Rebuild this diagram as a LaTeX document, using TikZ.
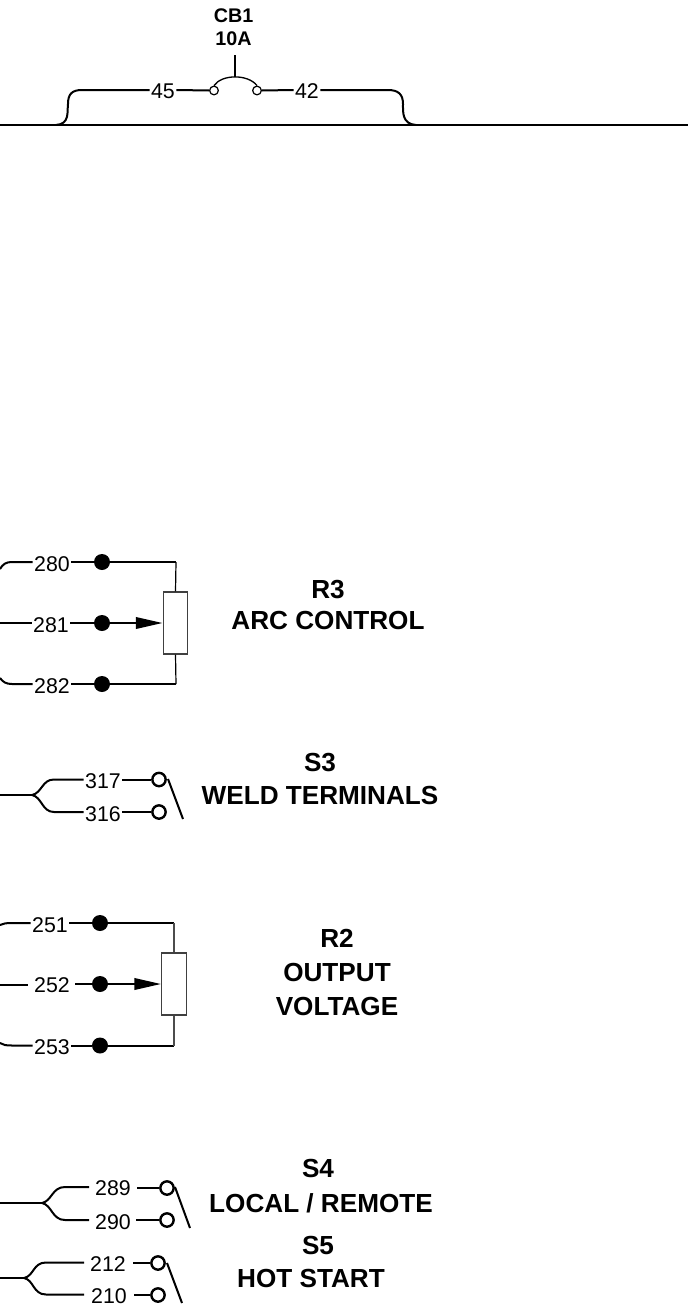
\documentclass[tikz,border=0pt]{standalone}
\usepackage{fontspec}
\setmainfont{Liberation Sans}
\usetikzlibrary{arrows.meta}
\tikzset{
 wire/.style={line width=1.5pt,black},
 num/.style={font=\fontsize{16}{16}\selectfont,inner sep=1pt},
 title/.style={font=\bfseries\fontsize{19.6}{19.6}\selectfont,inner sep=0pt},
 small title/.style={font=\bfseries\fontsize{14.8}{14.8}\selectfont,inner sep=0pt},
 dot/.style={circle,fill=black,draw=none,minimum size=12pt,inner sep=0pt},
 open/.style={circle,draw=black,line width=1.8pt,fill=white,minimum size=10pt,inner sep=0pt},
 smallopen/.style={circle,draw=black,line width=0.9pt,fill=white,minimum size=6.5pt,inner sep=0pt},
 pot/.style={draw=black!75,line width=0.8pt,fill=white,inner sep=0pt,minimum width=18.5pt,minimum height=46.5pt},
 tip/.style={-{Triangle[length=20pt,width=8.5pt,fill=black]},line width=1.8pt},
}
\begin{document}
\begin{tikzpicture}[x=0.75pt,y=-0.75pt]
\useasboundingbox (0,0) rectangle (688,1307);
% CB1
\coordinate (busL) at (0,125);
\coordinate (busR) at (688,125);
\coordinate (busA) at (56,125);
\coordinate (busB) at (416,125);
\draw[wire] (busL) -- (busR);
\node[small title] (cb1a) at (233.5,16) {CB1};
\node[small title] (cb1b) at (233.5,39) {10A};
\node[num] (n45) at (163,91) {45};
\node[num] (n42) at (307,91) {42};
\node[smallopen] (c45) at (214,90.5) {};
\node[smallopen] (c42) at (257,90.5) {};
\coordinate (cbtop) at (235,55);
\coordinate (cbmid) at (235,77);
\draw[wire] (busA) .. controls (70,124) and (67,112) .. (68,104) .. controls (68,94) and (72,90) .. (82,90) -- (n45.west |- 0,90);
\draw[wire] (busB) .. controls (402,124) and (403,112) .. (403,104) .. controls (403,94) and (398,90) .. (388,90) -- (n42.east |- 0,90);
\draw[wire] (n45.east |- 0,90) -- (c45.west);
\draw[wire] (n42.west |- 0,90) -- (c42.east);
\draw[line width=1pt] (c45.north) .. controls (222,74) and (248,74) .. (c42.north);
\draw[line width=1.2pt] (cbtop) -- (cbmid);
% R3
\node[num] (n280) at (52,564) {280};
\node[num] (n281) at (51,625) {281};
\node[num] (n282) at (52,686) {282};
\node[dot] (d280) at (102,562) {};
\node[dot] (d281) at (102,623) {};
\node[dot] (d282) at (102,684) {};
\node[pot] (r3) at (175.5,623) {};
\coordinate (r3a) at (0,569); \coordinate (r3b) at (0,623); \coordinate (r3c) at (0,678);
\draw[wire] (r3a) .. controls (3,564) and (6,562) .. (12,562) -- (n280.west |- 0,562);
\draw[wire] (r3b) -- (n281.west |- 0,623);
\draw[wire] (r3c) .. controls (3,682) and (6,684) .. (12,684) -- (n282.west |- 0,684);
\draw[wire] (n280.east |- 0,562) -- (d280);
\draw[wire] (n282.east |- 0,684) -- (d282);
\draw[wire] (d280) -- (176,562);
\draw[wire] (d282) -- (176,684);
\draw[line width=0.9pt] (176,562) -- (r3.north);
\draw[line width=0.9pt] (176,684) -- (r3.south);
\draw[wire,line width=1.8pt] (n281.east |- 0,623) -- (d281);
\draw[tip] (d281) -- (r3.west);
\node[title] (r3t) at (328,590) {R3};
\node[title] (r3u) at (328,620) {ARC CONTROL};
% S3
\coordinate (s3m) at (0,795);
\coordinate (s3j) at (32,795);
\node[num] (n317) at (103,781) {317};
\node[num] (n316) at (103,814) {316};
\node[open] (c317) at (159,779.5) {};
\node[open] (c316) at (159,812) {};
\coordinate (s3p) at (168,779); \coordinate (s3q) at (183,819);
\draw[wire] (s3m) -- (s3j);
\draw[wire] (s3j) .. controls (42,793) and (42,779.5) .. (54,779.5) -- (n317.west |- 0,779.5);
\draw[wire] (s3j) .. controls (42,797) and (42,812) .. (54,812) -- (n316.west |- 0,812);
\draw[wire] (n317.east |- 0,779.5) -- (c317);
\draw[wire] (n316.east |- 0,812) -- (c316);
\draw[wire] (s3p) -- (s3q);
\node[title] (s3t) at (320,763) {S3};
\node[title] (s3u) at (320,795) {WELD TERMINALS};
% R2
\node[num] (n251) at (50,925) {251};
\node[num] (n252) at (52,985) {252};
\node[num] (n253) at (52,1047) {253};
\node[dot] (d251) at (100,923) {};
\node[dot] (d252) at (100,984) {};
\node[dot] (d253) at (100,1045.5) {};
\node[pot] (r2) at (174,984) {};
\coordinate (r2a) at (0,925); \coordinate (r2b) at (0,985); \coordinate (r2c) at (0,1043);
\coordinate (r2bb) at (28,985);
\draw[wire] (r2a) .. controls (3,923.5) and (6,923) .. (12,923) -- (n251.west |- 0,923);
\draw[wire] (r2b) -- (r2bb);
\draw[wire] (r2c) .. controls (3,1045) and (6,1045.5) .. (12,1045.5) -- (n253.west |- 0,1045.5);
\draw[wire] (n251.east |- 0,923) -- (d251);
\draw[wire] (n253.east |- 0,1045.5) -- (d253);
\draw[wire] (d251) -- (174,923);
\draw[wire] (d253) -- (174,1045.5);
\draw[line width=0.9pt,black!70] (174,923) -- (r2.north);
\draw[line width=0.9pt,black!70] (174,1045.5) -- (r2.south);
\draw[wire,line width=1.8pt] (n252.east |- 0,984) ++(4,0) -- (d252);
\draw[tip] (d252) -- (r2.west);
\node[title] (r2t) at (337,938) {R2};
\node[title] (r2u) at (337,972) {OUTPUT};
\node[title] (r2v) at (337,1006) {VOLTAGE};
% S4
\coordinate (s4m) at (0,1203);
\coordinate (s4j) at (42,1203);
\node[num] (n289) at (113,1188) {289};
\node[num] (n290) at (113,1222) {290};
\node[open] (c289) at (167,1188) {};
\node[open] (c290) at (167,1220) {};
\coordinate (s4p) at (175,1187); \coordinate (s4q) at (190,1228);
\draw[wire] (s4m) -- (s4j);
\draw[wire] (s4j) .. controls (52,1201) and (52,1187) .. (65,1187) -- (89,1187);
\draw[wire] (s4j) .. controls (52,1205) and (52,1220) .. (65,1220) -- (89,1220);
\draw[wire] (137,1188) -- (c289);
\draw[wire] (136,1220) -- (c290);
\draw[wire] (s4p) -- (s4q);
\node[title] (s4t) at (318,1168) {S4};
\node[title] (s4u) at (321,1203) {LOCAL / REMOTE};
% S5
\coordinate (s5m) at (0,1278);
\coordinate (s5j) at (24,1278);
\node[num] (n212) at (108,1264) {212};
\node[num] (n210) at (109,1296) {210};
\node[open] (c212) at (158,1263) {};
\node[open] (c210) at (158,1295) {};
\coordinate (s5p) at (167,1263); \coordinate (s5q) at (182,1303);
\draw[wire] (s5m) -- (s5j);
\draw[wire] (s5j) .. controls (34,1276) and (33,1262.5) .. (46,1262.5) -- (84,1262.5);
\draw[wire] (s5j) .. controls (34,1280) and (33,1294.5) .. (46,1294.5) -- (84,1294.5);
\draw[wire] (133,1263) -- (c212);
\draw[wire] (134,1295) -- (c210);
\draw[wire] (s5p) -- (s5q);
\node[title] (s5t) at (318,1245) {S5};
\node[title] (s5u) at (311,1278) {HOT START};
\end{tikzpicture}
\end{document}
